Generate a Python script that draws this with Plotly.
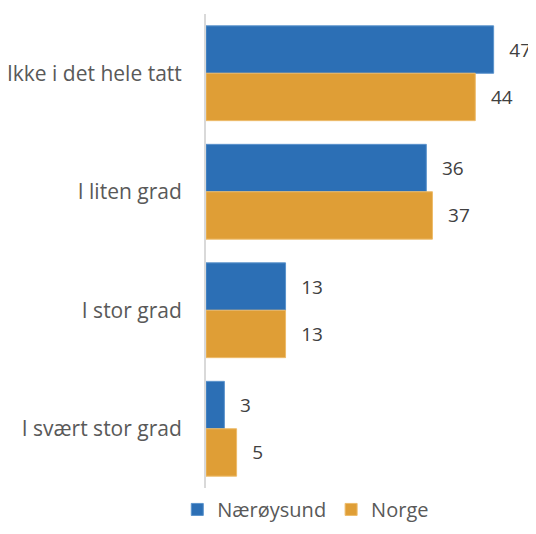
import plotly.graph_objects as go

categories = ["Ikke i det hele tatt", "I liten grad", "I stor grad", "I svært stor grad"]
naroysund = [47, 36, 13, 3]
norge = [44, 37, 13, 5]

blue = "#2C6FB5"
orange = "#DF9E36"
gray_text = "#595959"
pad = "\u2002\u2009"

fig = go.Figure()
fig.add_trace(go.Bar(y=categories, x=naroysund, orientation="h", name="Nærøysund",
                     marker=dict(color=blue, line=dict(color="#5B93CC", width=1)),
                     text=naroysund, texttemplate=pad + "%{x}", textposition="outside",
                     cliponaxis=False, textfont=dict(size=19, color="#404040")))
fig.add_trace(go.Bar(y=categories, x=norge, orientation="h", name="Norge",
                     marker=dict(color=orange, line=dict(color="#EDBB6A", width=1)),
                     text=norge, texttemplate=pad + "%{x}", textposition="outside",
                     cliponaxis=False, textfont=dict(size=19, color="#404040")))

# page body has an 8px margin, so the figure is a bit smaller than the window
fig.update_layout(
    width=528, height=518,
    margin=dict(l=198, r=24, t=6, b=38, autoexpand=False),
    barmode="group", bargap=0.2, bargroupgap=0,
    plot_bgcolor="white", paper_bgcolor="white",
    font=dict(family="Open Sans", size=21, color=gray_text),
    legend=dict(orientation="h", xref="container", x=0.564, xanchor="center",
                yref="container", y=0.032, yanchor="middle",
                font=dict(size=20, color=gray_text), itemwidth=30, traceorder="normal"),
)
fig.update_xaxes(range=[0, 50], visible=False)
fig.update_yaxes(autorange="reversed", showline=True, linecolor="#D9D9D9", linewidth=2,
                 ticks="", ticklabelstandoff=18, showgrid=False, automargin=False,
                 tickfont=dict(size=21, color=gray_text))

fig.write_html("out.html")
